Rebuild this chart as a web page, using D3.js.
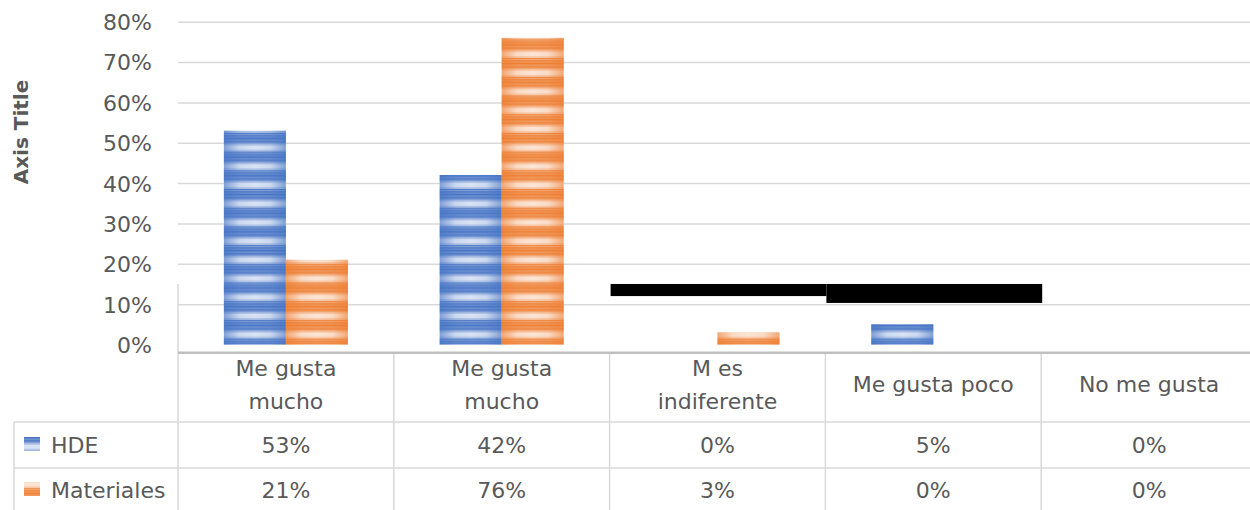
<!DOCTYPE html>
<html>
<head>
<meta charset="utf-8">
<script src="https://cdn.jsdelivr.net/npm/d3@7"></script>
<style>
  html, body { margin: 0; padding: 0; background: #fff; }
  svg { display: block; font-family: "DejaVu Sans", sans-serif; }
</style>
</head>
<body>
<svg id="chart" width="1250" height="510"></svg>
<script>
// ---- data ----
const categories = [["Me gusta", "mucho"], ["Me gusta", "mucho"], ["M es", "indiferente"], ["Me gusta poco"], ["No me gusta"]];
const seriesNames = ["HDE", "Materiales"];
const hdeValues = [53, 42, 0, 5, 0];
const materialesValues = [21, 76, 3, 0, 0];
const yTickValues = [0, 10, 20, 30, 40, 50, 60, 70, 80];
const seriesColors = ["#4472c4", "#ed7d31"];

const seriesValues = [hdeValues, materialesValues];

// ---- layout ----
const W = 1250, H = 510;
const plotLeft = 178, plotRight = 1257;
const tableTop = 352.7, row1 = 422, row2 = 468, legendLeft = 14;
const textColor = "#595959";
const gridColor = "#d9d9d9";

const svg = d3.select("#chart");
const y = d3.scaleLinear().domain([0, 80]).range([344.5, 21.7]);
const x = d3.scaleBand().domain(d3.range(categories.length)).range([plotLeft, plotRight]);
const xs = d3.scaleBand().domain(seriesNames).range([0, x.bandwidth()]).paddingOuter(0.74);

// ---- fills: striped texture with darker edges ----
const defs = svg.append("defs");
const period = 18.7;
// white bands inside one tile: [from, to, opacity]
const stripeBands = [
  [0.6, 1.6, 0.35], [2.6, 3.4, 0.3], [4.2, 5.2, 0.42],
  [5.2, 6.8, 0.62], [6.8, 11.4, 0.8], [11.4, 12.8, 0.58],
  [13.6, 14.6, 0.38], [15.4, 16.2, 0.3], [17.0, 17.8, 0.25]
];
seriesNames.forEach((s, i) => {
  const p = defs.append("pattern")
    .attr("id", "stripe" + i)
    .attr("patternUnits", "userSpaceOnUse")
    .attr("width", 10).attr("height", period)
    .attr("patternTransform", `translate(0,${y(0)})`);
  p.append("rect").attr("width", 10).attr("height", period).attr("fill", seriesColors[i]);
  p.selectAll("rect.b").data(stripeBands).join("rect")
    .attr("class", "b")
    .attr("x", 0).attr("width", 10)
    .attr("y", d => d[0]).attr("height", d => d[1] - d[0])
    .attr("fill", "#fff").attr("fill-opacity", d => d[2]);

  const g = defs.append("linearGradient").attr("id", "edge" + i)
    .attr("x1", "0").attr("x2", "1").attr("y1", "0").attr("y2", "0");
  [[0, 0.6], [0.25, 0.1], [0.5, 0], [0.75, 0.1], [1, 0.6]].forEach(([o, a]) => {
    g.append("stop").attr("offset", o).attr("stop-color", seriesColors[i]).attr("stop-opacity", a);
  });
});
defs.append("filter").attr("id", "soft")
  .attr("x", "-10%").attr("y", "-10%").attr("width", "120%").attr("height", "120%")
  .append("feGaussianBlur").attr("stdDeviation", 0.7);

// ---- gridlines ----
svg.append("g")
  .attr("transform", `translate(${plotLeft},0)`)
  .call(d3.axisLeft(y).tickValues(yTickValues.filter(v => v > 0)).tickSize(-(W - plotLeft)).tickFormat(""))
  .call(g => g.select(".domain").remove())
  .call(g => g.selectAll("line").attr("stroke", gridColor).attr("stroke-width", 1.5));

// ---- y axis labels ----
svg.append("g")
  .attr("transform", "translate(155,0)")
  .call(d3.axisLeft(y).tickValues(yTickValues).tickSize(0).tickPadding(3).tickFormat(d => d + "%"))
  .call(g => g.select(".domain").remove())
  .call(g => g.selectAll("text")
    .attr("font-family", "DejaVu Sans, sans-serif")
    .attr("font-size", 22).attr("fill", textColor).attr("dy", "0.36em"));

// axis title
svg.append("text")
  .attr("transform", "translate(21,132) rotate(-90)")
  .attr("text-anchor", "middle").attr("dominant-baseline", "central")
  .attr("font-size", 20).attr("font-weight", "bold").attr("fill", textColor)
  .text("Axis Title");

// ---- bars ----
seriesNames.forEach((s, i) => {
  const g = svg.append("g").attr("filter", "url(#soft)");
  const bars = g.selectAll("g.bar")
    .data(seriesValues[i].map((v, k) => ({ k, v })).filter(d => d.v > 0))
    .join("g").attr("class", "bar");
  bars.append("rect")
    .attr("x", d => x(d.k) + xs(s)).attr("width", xs.bandwidth())
    .attr("y", d => y(d.v)).attr("height", d => y(0) - y(d.v))
    .attr("fill", `url(#stripe${i})`);
  bars.append("rect")
    .attr("x", d => x(d.k) + xs(s)).attr("width", xs.bandwidth())
    .attr("y", d => y(d.v)).attr("height", d => y(0) - y(d.v))
    .attr("fill", `url(#edge${i})`);
});

// ---- covering blocks over the 3rd and 4th columns ----
svg.append("rect")
  .attr("x", x(2) + 1).attr("width", x.bandwidth())
  .attr("y", y(15)).attr("height", y(12) - y(15)).attr("fill", "#000");
svg.append("rect")
  .attr("x", x(3) + 1).attr("width", x.bandwidth())
  .attr("y", y(15)).attr("height", y(10.3) - y(15)).attr("fill", "#000");

// ---- data table ----
const t = svg.append("g");
t.append("line").attr("x1", plotLeft).attr("x2", plotLeft).attr("y1", y(15)).attr("y2", H)
  .attr("stroke", gridColor).attr("stroke-width", 1.5);
t.selectAll("line.col").data(d3.range(1, categories.length)).join("line").attr("class", "col")
  .attr("x1", d => x(d)).attr("x2", d => x(d)).attr("y1", tableTop).attr("y2", H)
  .attr("stroke", gridColor).attr("stroke-width", 1.5);
t.selectAll("line.row").data([row1, row2]).join("line").attr("class", "row")
  .attr("x1", legendLeft).attr("x2", W).attr("y1", d => d).attr("y2", d => d)
  .attr("stroke", gridColor).attr("stroke-width", 1.5);
t.append("line").attr("x1", legendLeft).attr("x2", legendLeft).attr("y1", row1).attr("y2", H)
  .attr("stroke", gridColor).attr("stroke-width", 1.5);
t.append("line").attr("x1", plotLeft).attr("x2", W).attr("y1", tableTop).attr("y2", tableTop)
  .attr("stroke", "#bfbfbf").attr("stroke-width", 2.6);

// category labels
const catText = t.selectAll("text.cat").data(categories).join("text").attr("class", "cat")
  .attr("text-anchor", "middle").attr("font-size", 22).attr("fill", textColor);
catText.each(function (lines, k) {
  const cx = x(k) + x.bandwidth() / 2;
  const base = lines.length === 1 ? [392] : [376, 409];
  d3.select(this).selectAll("tspan").data(lines).join("tspan")
    .attr("x", cx).attr("y", (d, j) => base[j]).text(d => d);
});

// value rows with legend keys
const rowBaselines = [453, 498];
seriesNames.forEach((s, i) => {
  t.selectAll(`text.v${i}`).data(seriesValues[i]).join("text").attr("class", `v${i}`)
    .attr("x", (d, k) => x(k) + x.bandwidth() / 2).attr("y", rowBaselines[i])
    .attr("text-anchor", "middle").attr("font-size", 22).attr("fill", textColor)
    .text(d => d + "%");
  const key = t.append("g").attr("filter", "url(#soft)");
  key.append("rect").attr("x", 24).attr("y", rowBaselines[i] - 16).attr("width", 16).attr("height", 14)
    .attr("fill", `url(#stripe${i})`);
  t.append("text").attr("x", 51).attr("y", rowBaselines[i])
    .attr("font-size", 22).attr("fill", textColor).text(s);
});
</script>
</body>
</html>
